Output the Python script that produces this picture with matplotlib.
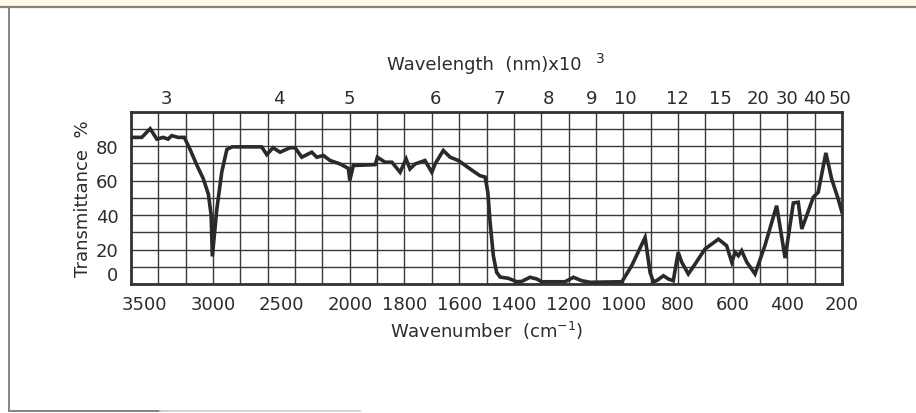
import numpy as np
import matplotlib
matplotlib.use("Agg")
import matplotlib.pyplot as plt
from matplotlib.lines import Line2D
from matplotlib.patches import Rectangle

# Infrared transmission spectrum
wavenumber = [3600, 3521, 3460, 3411, 3365, 3329, 3302, 3256, 3210, 3168, 3119,
              3071, 3034, 3014, 3005, 2973, 2936, 2899, 2861, 2644, 2607, 2561,
              2510, 2437, 2400, 2351, 2278, 2241, 2193, 2144, 2071, 2010, 2000,
              1987, 1907, 1899, 1871, 1846, 1816, 1794, 1780, 1761, 1725, 1700,
              1688, 1658, 1633, 1603, 1560, 1524, 1505, 1495, 1487, 1475, 1463,
              1450, 1420, 1389, 1371, 1341, 1316, 1298, 1213, 1182, 1152, 1121,
              1005, 969, 920, 902, 890, 877, 853, 835, 817, 799, 786, 762, 737,
              701, 652, 622, 603, 591, 579, 567, 548, 518, 482, 439, 408, 378,
              360, 347, 305, 287, 259, 238, 214, 200]
transmittance = [85, 85, 90, 84, 85, 84, 86, 85, 85, 78, 69,
                 61, 52, 40, 16, 43, 65, 78, 79.5, 79.5, 75, 79,
                 76.4, 79, 79, 73.5, 76.4, 73.5, 74.5, 71.6, 69.6, 67, 60,
                 68.7, 69.2, 73.5, 70.6, 70.6, 64.8, 72.5, 66.7, 69.6, 71.6, 64.8,
                 69.6, 77.4, 73.5, 71.6, 66.7, 62.8, 62, 53, 36, 16.4, 6.8,
                 4, 3.3, 1.3, 1.5, 3.9, 2.9, 1.3, 1.3, 3.9, 1.9, 1,
                 1.3, 10.6, 27, 6.8, 1.3, 2, 4.8, 2.9, 1.9, 18.4, 12.6, 5.8, 11.6,
                 20.3, 26, 22.2, 12.6, 18.4, 16.4, 19.3, 12.6, 5.8, 22.2, 45.4, 15, 47,
                 47.4, 31.9, 50.3, 53.2, 76, 61, 49.3, 41.6]

# Axis annotations
wavenumber_ticks = [3500, 3000, 2500, 2000, 1800, 1600, 1400, 1200, 1000,
                    800, 600, 400, 200]
wavelength_labels = ["3", "4", "5", "6", "7", "8", "9", "10", "12", "15",
                     "20", "30", "40", "50"]
wavelength_label_pos = [3340, 2516, 2000, 1685, 1453, 1275, 1114, 993, 800,
                        646, 507, 401, 299, 207]
transmittance_ticks = [0, 20, 40, 60, 80]

INK = "#2c2c2c"
FS = 13
plt.rcParams["font.family"] = ["DejaVu Sans"]

# Chart paper: 2000-200 cm-1 at twice the scale of 3600-2000 cm-1
_w_breaks = [200, 2000, 3600]
_u_breaks = [0, 18, 26]


def to_chart(w):
    return np.interp(w, _w_breaks, _u_breaks)


def from_chart(u):
    return np.interp(u, _u_breaks, _w_breaks)


fig = plt.figure(figsize=(9.16, 4.14), dpi=100)
fig.patch.set_facecolor("white")

ax = fig.add_axes([131 / 916, 1 - 285 / 414, (842 - 131) / 916, (285 - 112.5) / 414])
ax.set_xscale("function", functions=(to_chart, from_chart))
ax.set_xlim(3600, 200)
ax.set_ylim(0, 100)

ax.xaxis.remove_overlapping_locs = False
ax.yaxis.remove_overlapping_locs = False
grid_x = list(range(200, 2001, 100)) + list(range(2200, 3601, 200))
ax.set_xticks(grid_x, minor=True)
ax.set_yticks(range(0, 101, 10), minor=True)
ax.set_xticks(wavenumber_ticks, [str(t) for t in wavenumber_ticks])
ax.set_yticks(transmittance_ticks, [str(t) for t in transmittance_ticks])
ax.grid(which="minor", color="#3a3a3a", linewidth=1.0)
ax.grid(which="major", visible=False)
ax.tick_params(which="both", length=0, labelsize=FS, labelcolor=INK)
ax.tick_params(axis="x", pad=8)
ax.tick_params(axis="y", pad=9)
ax.get_yticklabels()[0].set_verticalalignment("bottom")
for s in ax.spines.values():
    s.set_linewidth(2.0)
    s.set_color("#333333")

ax.plot(wavenumber, transmittance, color="#2a2a2a", linewidth=2.6,
        solid_joinstyle="miter", zorder=5)

ax.set_xlabel("Wavenumber  (cm$^{-1}$)", fontsize=FS, color=INK, labelpad=4)
ax.set_ylabel("Transmittance  %", fontsize=FS, color=INK, labelpad=3)

top = ax.twiny()
top.set_xscale("function", functions=(to_chart, from_chart))
top.set_xlim(3600, 200)
top.set_xticks(wavelength_label_pos, wavelength_labels)
top.tick_params(length=0, pad=3, labelsize=FS, labelcolor=INK)
for s in top.spines.values():
    s.set_visible(False)

fig.text(484 / 916, 1 - 65 / 414, "Wavelength  (nm)x10", fontsize=FS,
         color=INK, ha="center", va="center")
fig.text(596 / 916, 1 - 59 / 414, "3", fontsize=10, color=INK,
         ha="left", va="center")

# Page border
fig.patches.append(Rectangle((0, 1 - 7 / 414), 1, 7 / 414,
                             transform=fig.transFigure, color="#fbf8e6", zorder=0))
fig.lines.append(Line2D([0, 1], [1 - 8 / 414] * 2, transform=fig.transFigure,
                        color="#87837a", linewidth=1.6))
fig.lines.append(Line2D([9 / 916] * 2, [1 - 8 / 414, 1 - 412 / 414],
                        transform=fig.transFigure, color="#87837a", linewidth=1.4))
fig.lines.append(Line2D([9 / 916, 160 / 916], [1 - 412 / 414] * 2,
                        transform=fig.transFigure, color="#87837a", linewidth=1.4))
fig.lines.append(Line2D([160 / 916, 360 / 916], [1 - 412 / 414] * 2,
                        transform=fig.transFigure, color="#cfccc6", linewidth=1.2))

fig.savefig("out.png", dpi=100, facecolor="white")
